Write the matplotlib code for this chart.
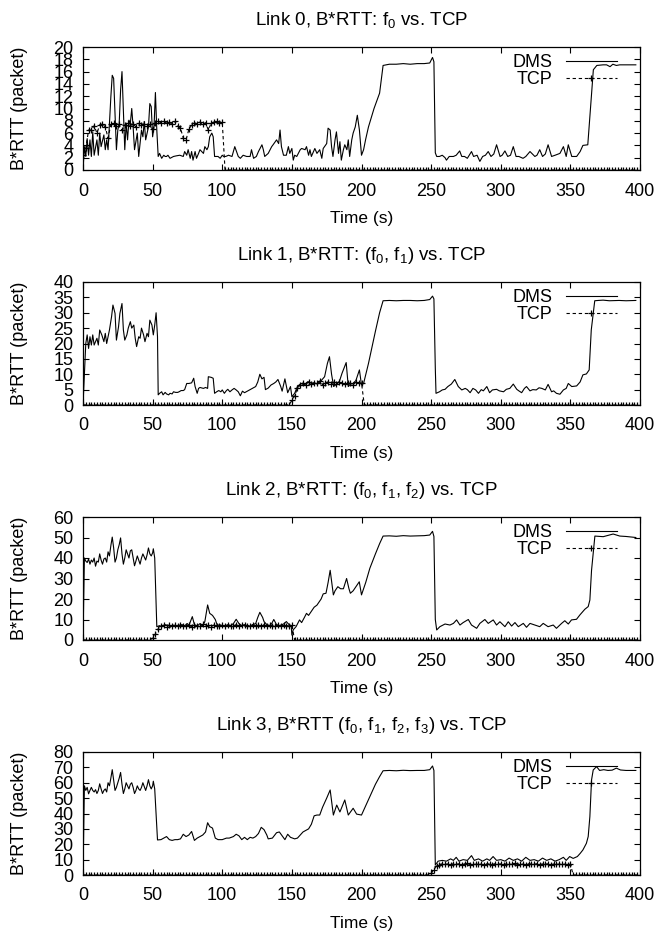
import numpy as np
import matplotlib
matplotlib.use("Agg")
import matplotlib.pyplot as plt

plt.rcParams['font.family'] = ['Liberation Sans', 'DejaVu Sans']
plt.rcParams['mathtext.fontset'] = 'custom'
plt.rcParams['mathtext.rm'] = 'Liberation Sans'
plt.rcParams['mathtext.default'] = 'regular'

# ---- data ----
titles = ["Link 0, B*RTT: f$_0$ vs. TCP",
          "Link 1, B*RTT: (f$_0$, f$_1$) vs. TCP",
          "Link 2, B*RTT: (f$_0$, f$_1$, f$_2$) vs. TCP",
          "Link 3, B*RTT (f$_0$, f$_1$, f$_2$, f$_3$) vs. TCP"]
ymax = [20, 40, 60, 80]
ystep = [2, 5, 10, 10]
xticks = [0, 50, 100, 150, 200, 250, 300, 350, 400]

# DMS series, (time, value) pairs
dms0 = [(0,0),(1,3.8),(2,2.2),(3,5.1),(4,2.4),(5,4.9),(6,2.2),(7,6.2),(8,2.4),(10,4.9),(11,2.4),(12,6.0),
        (13,3.8),(15,5.7),(16,3.3),(17,4.9),(18,3.3),(19,7.6),(20,11.9),(21,15.4),(22,14.9),(24,3.3),(25,6.5),
        (26,7.6),(27,13.0),(28,16.0),(30,3.3),(31,7.6),(32,4.9),(33,8.1),(34,7.6),(35,10.0),(36,7.0),(37,3.3),
        (39,6.0),(40,2.2),(42,6.5),(43,5.4),(44,7.9),(45,4.9),(47,7.0),(48,10.8),(49,10.3),(50,5.4),(51,7.0),
        (52,12.6),(53,6.5),(54,2.2),(55,2.7),(56.5,1.9),(58,2.4),(59,2.2),(60,2.2),(61,2.4),(62.5,1.9),(65,2.2),
        (67,2.3),(69.5,2.4),(72,2.2),(73,3.0),(74.5,2.4),(75.5,3.3),(77,1.9),(78,3.0),(79,1.6),(80.5,3.0),
        (81.5,1.9),(83,2.7),(84,3.3),(86.5,2.7),(87.5,3.8),(89,3.3),(90,3.8),(91,5.4),(92.5,6.0),(93.5,5.4),
        (94.5,2.2),(97,2.2),(98.5,1.9),(100,2.4),(101,2.2),(102.5,2.2),(104.5,2.4),(107,2.2),(109,3.8),
        (111.5,2.2),(113,1.9),(115,2.4),(117.5,2.2),(120,2.2),(121,3.3),(122.5,1.9),(124.5,2.2),(126,3.0),
        (128.5,4.1),(129.5,3.3),(130.5,2.2),(133,2.7),(135.5,3.8),(136.5,4.1),(139,4.9),(140.5,4.3),(141.5,6.5),
        (142.5,3.8),(144,2.4),(146,2.4),(147.5,3.8),(148.5,2.7),(150,3.5),(151,1.6),(152,2.4),(153.5,2.2),
        (156,3.3),(157,3.5),(159.5,3.3),(160.5,3.8),(162,2.4),(163,3.3),(164,2.2),(166.5,3.5),(168,2.7),
        (170,3.3),(171.5,1.9),(172.5,3.5),(175,4.3),(176,6.8),(177.5,6.5),(178.5,3.8),(179.5,2.2),(181,4.9),
        (182,6.2),(183.5,2.7),(184.5,4.6),(185.5,1.6),(187,3.3),(188,4.1),(189.5,3.3),(190.5,4.9),(191.5,2.2),
        (193,4.9),(194,6.0),(195.5,7.0),(197,8.9),(198.5,6.5),(200,2.4),(201.5,3.3),(203,5.0),(205,7.0),
        (209,10.0),(213,12.5),(215.5,17.0),(220,17.2),(225,17.2),(230,17.3),(235,17.2),(240,17.3),(245,17.3),
        (249,17.4),(251,18.3),(252,17.6),(253,2.8),(254,2.2),(256,2.2),(258,2.4),(260,2.0),(261,1.6),(263,2.2),
        (266,2.2),(268,2.4),(270.5,3.1),(272,2.2),(274,2.2),(276,1.9),(279,3.0),(280.5,2.2),(283,2.4),(285,1.4),
        (287,2.2),(289,2.4),(291,3.0),(293,2.2),(295,2.6),(297,4.1),(299.5,2.2),(301,2.4),(303,3.1),(305,2.2),
        (307,2.4),(309,3.8),(311,2.2),(313,2.2),(316,1.9),(318,2.2),(321,3.0),(324.5,2.2),(326,2.4),(328,3.3),
        (330,2.2),(332,2.6),(334,4.1),(336.5,2.2),(339,2.4),(342.5,2.7),(345,3.8),(347,2.2),(348.5,4.1),
        (351,2.2),(354.5,2.2),(357,3.0),(359,4.0),(362.5,4.1),(364,8.7),(366.5,16.3),(369,17.0),(373.5,17.1),
        (376,17.1),(378.5,16.8),(380.5,17.2),(383,17.0),(385.5,17.1),(390,17.1),(397,17.1)]

dms1 = [(0,0),(1,10.0),(2,20.0),(3,22.8),(4,18.4),(5,22.2),(6,19.5),(7,22.8),(8,19.5),(10,21.7),(11,19.5),
        (12,24.4),(13.5,22.8),(15,20.6),(16,23.3),(17,20.0),(18,22.2),(19,24.4),(20.5,28.7),(21.5,32.5),
        (23,29.8),(24,21.1),(25.5,25.4),(26.5,29.8),(28,33.0),(29,24.4),(30,21.1),(31.5,22.8),(32.5,25.0),
        (34,27.1),(35,25.0),(36.5,26.0),(37.5,21.7),(38.5,19.0),(40,22.2),(41,21.7),(42,25.0),(43.5,22.8),
        (44.5,20.6),(46,23.3),(47,22.2),(48,27.6),(49.5,26.0),(50.5,22.8),(51.5,26.0),(52.5,30.0),(53.5,22.2),
        (54,3.3),(55,3.8),(56.5,4.3),(57.5,3.3),(59,4.1),(60,3.6),(61.5,3.3),(62.5,3.8),(64,3.6),(65,4.3),
        (66.5,4.1),(68,4.1),(69,4.3),(70.5,4.7),(72,4.7),(73,5.0),(74.5,7.0),(76,7.0),(78,7.2),(79.5,8.7),
        (80.5,6.0),(82,3.8),(83,5.4),(84,5.7),(86.5,5.4),(88,5.7),(89.5,5.4),(90,9.2),(92,9.0),(93.5,8.7),
        (94.5,3.8),(96,4.3),(97.5,4.7),(99,4.3),(100,4.9),(101.5,3.8),(103,4.7),(104,5.1),(105.5,4.3),(107,4.9),
        (108.5,5.4),(110,4.9),(111.5,4.3),(113,3.0),(114.5,4.5),(116,4.0),(118,4.5),(120,5.0),(122,5.5),
        (124,6.0),(125.5,7.5),(127,10.0),(128.5,8.5),(130,9.0),(131,5.0),(133,5.5),(135,6.5),(137,7.0),
        (138.5,7.5),(140,8.3),(142,6.0),(143,4.5),(145,8.5),(147,4.0),(149,6.0),(150,2.7),(152,3.8),(154,6.0),
        (156.5,7.0),(159,6.5),(161.5,7.6),(164,6.5),(166,7.2),(168.5,6.8),(171,7.9),(173.5,9.2),(175.5,13.5),
        (177,15.7),(178.5,10.0),(180,6.0),(182,6.8),(184,7.5),(186,10.3),(189,13.8),(190.5,6.0),(192,6.8),
        (194,7.0),(196,8.0),(198.5,11.4),(200,6.5),(201.5,7.0),(205,13.5),(210,24.0),(213,30.0),(215.5,33.9),
        (220,34.0),(225,33.9),(230,34.0),(235,34.0),(240,33.9),(245,34.0),(249,34.3),(251,35.4),(252,34.5),
        (253,12.0),(253.5,3.8),(256,4.3),(258,4.9),(260,5.1),(262,6.0),(264.5,6.8),(267,8.3),(269.5,6.0),
        (272,4.9),(274.5,5.4),(276,5.0),(278,4.0),(280,5.4),(282,4.9),(284,3.8),(286,5.0),(287.5,4.6),(290,6.0),
        (292,4.0),(294,4.9),(297,5.1),(299,4.6),(302,4.3),(304,5.1),(306.5,5.4),(309,6.8),(311.5,5.1),(313,4.6),
        (315,4.0),(317,5.4),(318.5,6.0),(321,4.6),(323,5.0),(325.5,4.9),(327.5,5.6),(329.5,5.4),(332,4.9),
        (334,6.7),(336.5,4.3),(338,4.6),(340,3.8),(342.5,3.5),(345,4.9),(347,5.4),(348.5,7.0),(351,6.0),
        (354.5,6.2),(357,7.5),(359,9.8),(361.5,10.1),(363.5,11.4),(365,24.4),(367.5,33.9),(370,34.0),
        (373.5,34.1),(378,33.9),(385,34.0),(390,33.9),(397,34.0)]

dms2 = [(0,0),(1,40.0),(2,38.5),(3,37.8),(4,39.5),(5,37.0),(6,39.0),(7,38.0),(8,40.0),(9,36.0),(10,38.5),
        (11,38.0),(12,42.0),(13,39.0),(14,37.0),(15,39.5),(16,40.0),(17,38.0),(18,43.0),(19,41.0),(20,46.0),
        (21,50.2),(22,45.0),(23,38.0),(24,40.0),(25,44.0),(26,46.5),(27,49.8),(28,42.0),(29,37.0),(30,40.0),
        (31,44.0),(32,42.0),(33,40.0),(34,43.5),(35,44.0),(36,40.0),(37,36.2),(38,38.5),(39,41.0),(40,39.0),
        (41,37.0),(42,40.0),(43,42.0),(44,40.5),(45,39.0),(46,41.5),(47,44.9),(48,42.0),(49,41.0),(50,42.5),
        (50.5,44.5),(51.5,40.0),(53,6.5),(55,7.0),(57,6.5),(59,7.5),(61,7.0),(63,6.5),(65,7.2),(67,7.0),
        (69,6.8),(71,7.5),(73,7.0),(75,8.0),(76,7.0),(78.5,11.4),(80,7.5),(82,6.8),(84,8.0),(86,7.0),(87.5,9.0),
        (89.5,17.1),(91,13.0),(93,12.0),(95,10.0),(96.5,7.0),(98,7.5),(100,7.0),(102,6.8),(104,7.5),(106,7.0),
        (108,8.0),(110,10.1),(112,8.0),(114,7.0),(116,7.5),(118,7.0),(120,6.8),(122,7.5),(124,8.0),(125.5,11.0),
        (127,13.5),(129,11.0),(130,9.0),(132,7.5),(134,7.0),(135.5,8.0),(137,10.0),(139,7.5),(141,7.0),
        (143,7.5),(144.5,8.0),(146,9.0),(148,7.5),(149.5,7.0),(150,2.4),(151,5.0),(153,6.5),(155.5,9.8),
        (157,8.5),(159,11.0),(160.5,13.0),(162,12.0),(164,14.0),(166,16.0),(168,17.0),(169,18.0),(171,20.0),
        (172.5,22.5),(174.5,22.8),(176,28.0),(177.5,34.0),(179.8,22.0),(181,24.0),(183,26.0),(185,25.0),
        (187,25.0),(189.3,30.0),(191,25.0),(192,22.8),(194,24.0),(196,26.0),(198.4,28.4),(200,22.0),(203,28.0),
        (206,35.0),(210,42.0),(213,47.0),(215.5,50.7),(220,50.8),(225,50.6),(230,50.9),(235,50.7),(240,50.8),
        (245,50.9),(249,51.2),(251,53.0),(252,50.5),(253,10.0),(254,4.9),(256.3,6.5),(260,7.8),(263.5,7.3),
        (266,8.1),(268.3,9.8),(270.7,7.3),(273,8.5),(276.7,10.0),(279,7.3),(282.7,5.7),(285,8.1),(288.6,10.0),
        (291,8.1),(294.6,9.8),(297,7.3),(299.4,8.9),(303,6.5),(305.4,8.9),(307.8,6.8),(310.2,8.5),(312.6,6.5),
        (316.2,8.1),(318.5,6.2),(321,8.1),(324.5,7.3),(328,6.5),(330.5,8.1),(334,6.5),(337.7,7.3),(340,5.7),
        (343.7,8.1),(346,9.4),(348.5,7.8),(350.8,9.8),(354.4,10.1),(356.8,12.2),(360.4,15.0),(362.8,16.3),
        (364,19.5),(365.2,34.0),(367.6,50.7),(370,50.6),(373.6,50.4),(377,51.0),(380.7,51.7),(383,51.2),
        (385.5,50.7),(390,50.5),(397,50.0)]

dms3 = [(0,0),(1,58.0),(2,55.0),(3,57.0),(4,52.8),(5,55.0),(6,57.0),(7,55.0),(8,54.0),(9,55.5),(10,53.0),
        (11,55.0),(12,59.3),(13,56.0),(14,53.0),(15,55.0),(16,56.0),(17,54.0),(18,60.0),(19,58.0),(20,63.0),
        (21,68.5),(22,62.0),(23,55.0),(24,57.0),(25,60.0),(26,63.0),(27,66.7),(28,59.0),(29,53.0),(30,56.0),
        (31,60.0),(32,58.0),(33,56.0),(34,59.0),(35,60.0),(36,57.0),(37,53.0),(38,55.0),(39,58.0),(40,56.0),
        (41,55.0),(42,57.0),(43,60.0),(44,57.5),(45,55.0),(46,58.0),(47,62.0),(48,58.0),(49,56.0),(50,58.0),
        (50.5,61.0),(51.5,56.0),(53.5,22.8),(56,23.0),(58,24.0),(60,25.0),(62,23.0),(64,22.5),(66,23.0),
        (68,23.0),(70,23.5),(72,26.5),(74,25.0),(76,26.0),(78,28.3),(80,22.5),(82,24.0),(84,25.0),(86,26.0),
        (88,28.0),(89.5,34.0),(91,31.5),(93,30.5),(95,24.0),(97,23.0),(100,23.0),(103,24.0),(105,24.0),
        (108,25.0),(110,26.5),(112,25.5),(114,23.0),(116,24.5),(118,23.0),(120,24.5),(122,24.0),(124,25.0),
        (126,27.0),(128,31.0),(130,29.5),(132,26.0),(133,23.5),(136,24.0),(139,27.5),(141,28.0),(143,25.5),
        (145,23.0),(147,26.5),(149,24.5),(152,23.5),(154,24.0),(156,26.0),(158,28.0),(160,29.0),(162,30.0),
        (164,33.0),(166,38.5),(168,39.0),(170,39.0),(172,44.0),(175,50.0),(177.5,55.3),(179.8,39.0),
        (182.2,45.5),(184.5,41.0),(188,48.8),(190.5,39.0),(194,43.4),(196.5,39.6),(200,39.0),(203,45.0),
        (206,50.9),(210,59.0),(213,64.0),(215.5,67.8),(220,68.0),(225,67.8),(230,68.1),(235,67.9),(240,68.0),
        (245,68.0),(249,68.5),(251,70.9),(252,68.0),(253,6.5),(255,9.0),(258,9.5),(261,9.0),(264,10.5),
        (266,9.5),(268,11.5),(270,9.0),(273,10.0),(276,9.5),(279,12.6),(281,9.5),(284,10.5),(287,9.0),
        (290,10.5),(292,9.5),(294.5,12.0),(297,9.5),(300,10.0),(303,9.0),(306,11.0),(309,9.5),(312,10.5),
        (315,9.0),(318,11.5),(321,9.5),(324,10.0),(327,9.0),(330,11.0),(333,9.5),(336,10.5),(339,9.0),
        (342,10.0),(345,11.5),(347,9.5),(349.5,12.0),(352,10.8),(355,12.0),(357,14.0),(359,16.3),(361.5,20.6),
        (362.8,25.0),(364,38.0),(365.2,61.8),(366.4,68.3),(368.8,70.5),(371,68.0),(374,68.5),(377,68.0),
        (380,68.2),(383,69.5),(386,68.3),(390,68.0),(397,68.0)]

tcp_t = np.arange(0, 399, 2)
tcp0_on = [2.5, 3.5, 6.5, 6.5, 7.2, 6.0, 7.3, 7.5, 7.0, 5.2, 7.4, 7.6, 7.1, 7.4, 6.5, 7.3, 7.6, 7.2,
           7.5, 7.0, 7.6, 7.3, 7.5, 7.1, 7.4, 6.6, 7.6, 7.9, 7.7, 7.9, 7.6, 7.8, 7.5, 7.9, 7.2, 6.8,
           5.2, 4.9, 6.6, 7.3, 7.7, 7.5, 7.8, 7.4, 7.7, 6.5, 7.6, 7.8, 7.9, 7.7, 7.8]          # t=0..100
tcp1_on = [1.5, 3.0, 5.5, 6.5, 7.2, 6.5, 7.5, 6.8, 7.3, 7.0, 7.8, 6.6, 7.2, 7.5, 6.9, 7.4, 6.8,
           7.6, 7.1, 6.7, 7.3, 7.0, 6.6, 7.4, 7.1, 7.2]                                        # t=150..200
tcp2_on = [1.0, 3.0, 5.5, 6.8, 7.2, 6.5, 7.4, 6.9, 7.1, 6.6, 7.5, 7.0, 6.8, 7.3, 6.4, 7.2, 7.0,
           6.7, 7.6, 6.9, 7.1, 6.5, 7.3, 7.0, 6.8, 7.4, 6.6, 7.2, 7.0, 6.9, 7.5, 6.7, 7.1, 7.3,
           6.6, 7.0, 7.4, 6.8, 7.2, 6.9, 7.5, 6.6, 7.1, 7.0, 6.8, 7.3, 6.7, 7.2, 7.0, 6.9, 7.1]   # t=50..150
tcp3_on = [1.0, 3.5, 6.0, 6.8, 7.3, 6.9, 7.2, 6.6, 7.4, 7.0, 7.3, 6.8, 7.1, 7.5, 6.7, 7.2, 6.9,
           7.4, 7.0, 6.6, 7.3, 7.1, 6.8, 7.4, 7.0, 7.2, 6.7, 7.3, 7.1, 6.9, 7.5, 6.8, 7.2, 7.0,
           6.7, 7.3, 7.1, 6.9, 7.4, 6.8, 7.2, 7.0, 7.3, 6.7, 7.1, 7.4, 6.9, 7.2, 7.0, 6.8, 7.2]   # t=250..350


def tcpSeries(on, start):
    # zeros before/after the active window
    n_before = start // 2
    n_after = len(tcp_t) - n_before - len(on)
    return [0.0] * n_before + on + [0.0] * n_after


dms_all = [dms0, dms1, dms2, dms3]
tcp_all = [tcpSeries(tcp0_on, 0), tcpSeries(tcp1_on, 150),
           tcpSeries(tcp2_on, 50), tcpSeries(tcp3_on, 250)]

fig = plt.figure(figsize=(6.59, 9.33), dpi=100)

# axes boxes in pixels (left, top, right, bottom) of the 659x933 picture
W, H = 659.0, 933.0
boxes = [(83, 47, 640, 170), (83, 282, 640, 405), (83, 517, 640, 640), (83, 752, 640, 875)]

for i in range(4):
    l, t, r, b = boxes[i]
    ax = fig.add_axes([l / W, 1 - b / H, (r - l) / W, (b - t) / H])

    d = np.array(dms_all[i])
    ax.plot(d[:, 0], d[:, 1], color='black', lw=0.8, label='DMS')
    ax.plot(tcp_t, tcp_all[i], color='black', lw=0.8, linestyle=(0, (3, 2.5)),
            marker='+', markersize=5, markeredgewidth=0.9, label='TCP')

    ax.set_xlim(0, 400)
    ax.set_ylim(0, ymax[i])
    ax.set_xticks(xticks)
    ax.set_yticks(np.arange(0, ymax[i] + 1, ystep[i]))
    ax.tick_params(direction='in', top=True, right=True, length=4, width=0.8, labelsize=13)
    ax.tick_params(axis='x', pad=9)
    ax.tick_params(axis='y', pad=7)
    for s in ax.spines.values():
        s.set_linewidth(0.9)

    ax.set_title(titles[i], fontsize=13.5, pad=16)
    ax.set_xlabel("Time (s)", fontsize=12.5, labelpad=8)
    ax.set_ylabel("B*RTT (packet)", fontsize=13, labelpad=18)

    ax.legend(loc='upper right', bbox_to_anchor=(0.958, 0.94), frameon=False,
              markerfirst=False, handlelength=2.8, handletextpad=0.75,
              labelspacing=0.0, borderpad=0.0, borderaxespad=0.0,
              fontsize=13, numpoints=1)

fig.savefig("out.png", dpi=100)
